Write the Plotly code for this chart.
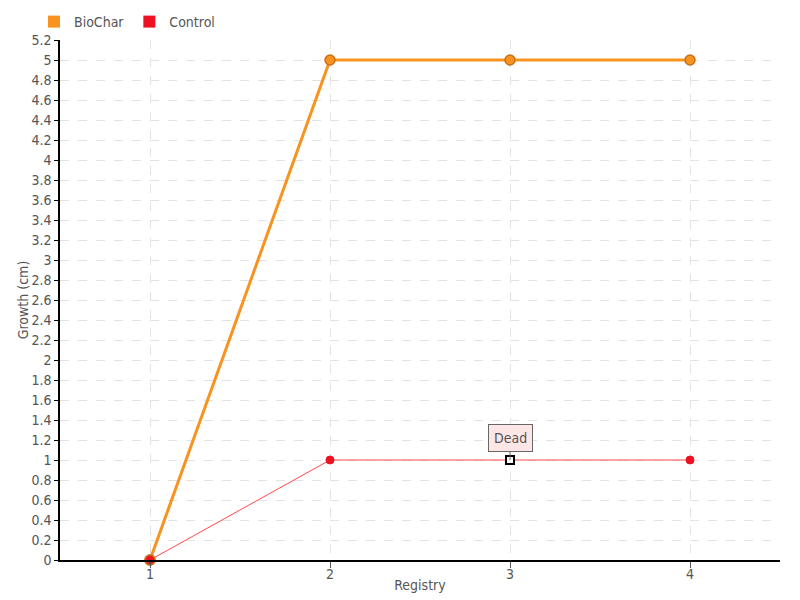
import plotly.graph_objects as go

registry = [1, 2, 3, 4]
biochar = [0, 5, 5, 5]
control = [0, 1, 1, 1]
y_ticks = [round(i * 0.2, 1) for i in range(27)]
y_ticktext = [("%g" % v) for v in y_ticks]

FONT = "Liberation Sans Narrow, DejaVu Sans Condensed, sans-serif"
GRID = "#e3e3e3"
ORANGE = "#f7931e"
RED = "#ee1122"

# page body has an 8px default margin, so the figure is 792x592
W, H = 792, 592

fig = go.Figure()
fig.add_trace(go.Scatter(
    x=registry, y=biochar, name="BioChar", mode="lines+markers", showlegend=False,
    cliponaxis=False,
    line=dict(color=ORANGE, width=3),
    marker=dict(size=10, color=ORANGE, line=dict(color="#c8701a", width=1.5), symbol="circle"),
))
fig.add_trace(go.Scatter(
    x=registry, y=control, name="Control", mode="lines+markers", showlegend=False,
    cliponaxis=False,
    line=dict(color="#ff4a4a", width=1),
    marker=dict(size=[10, 8, 8, 8], color=[RED, RED, "#ffffff", RED], opacity=1,
                line=dict(color=["#c8701a", RED, "#000000", RED], width=[1.5, 1, 2, 1]),
                symbol=["circle", "circle", "square", "circle"]),
))
for name, col in [("BioChar", ORANGE), ("Control", RED)]:
    fig.add_trace(go.Scatter(x=[None], y=[None], name=name, mode="markers",
                             marker=dict(symbol="square", size=6, color=col)))

fig.add_annotation(
    x=registry[2], y=control[2], text="Dead", showarrow=True,
    arrowhead=0, arrowwidth=1, arrowcolor="#666666", ax=0, ay=-22,
    bgcolor="#fde6e6", bordercolor="#666666", borderwidth=1, borderpad=5,
    font=dict(family=FONT, size=14, color="#555555"),
)

fig.update_layout(
    width=W, height=H,
    margin=dict(l=52, r=20, t=32, b=40, autoexpand=False),
    paper_bgcolor="white", plot_bgcolor="white",
    font=dict(family=FONT, size=14, color="#555555"),
    showlegend=True,
    legend=dict(orientation="h", xref="container", yref="container",
                x=26 / W, y=1 - 14 / H, xanchor="left", yanchor="middle",
                bgcolor="rgba(0,0,0,0)",
                font=dict(size=14, color="#555555"), itemsizing="constant",
                itemwidth=30, tracegroupgap=0),
    xaxis=dict(
        range=[0.5, 4.5], tickvals=registry, ticktext=[str(v) for v in registry],
        showline=True, linecolor="black", linewidth=1.5,
        ticks="outside", ticklen=6, tickcolor="#555555", ticklabelstandoff=-6,
        showgrid=True, gridcolor=GRID, griddash="dash", zeroline=False,
        title=dict(text="Registry", standoff=0, font=dict(size=14)),
    ),
    yaxis=dict(
        range=[0, 5.2], tickvals=y_ticks, ticktext=y_ticktext,
        showline=True, linecolor="black", linewidth=1.5,
        ticks="outside", ticklen=4, tickcolor="black",
        showgrid=True, gridcolor=GRID, griddash="dash", zeroline=False,
        title=dict(text="Growth (cm)", standoff=0, font=dict(size=14)),
    ),
)

fig.write_html("out.html")
